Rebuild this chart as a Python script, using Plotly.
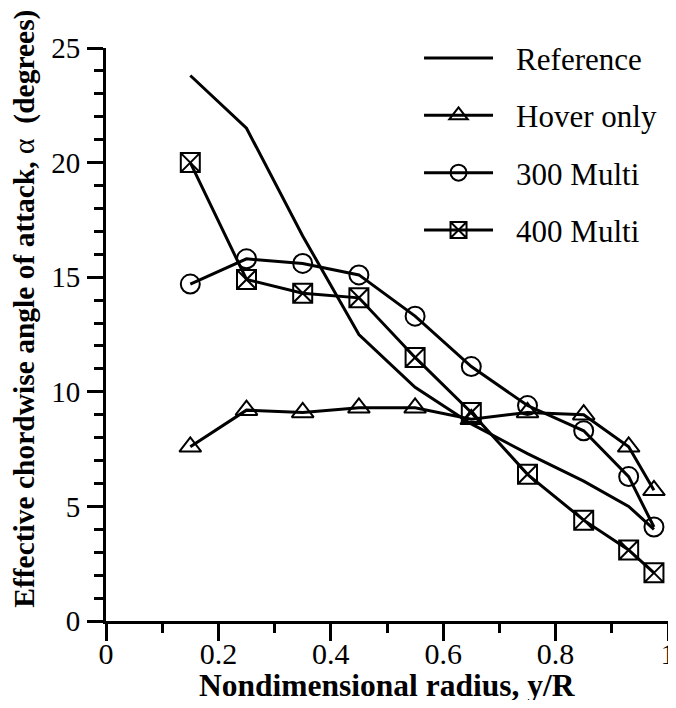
import plotly.graph_objects as go

x_pos = [0.15, 0.25, 0.35, 0.45, 0.55, 0.65, 0.75, 0.85, 0.93, 0.975]
reference = [23.8, 21.5, 16.8, 12.5, 10.2, 8.6, 7.3, 6.1, 5.0, 4.0]
hover_only = [7.6, 9.2, 9.1, 9.3, 9.3, 8.8, 9.1, 9.0, 7.6, 5.7]
multi_300 = [14.7, 15.8, 15.6, 15.1, 13.3, 11.1, 9.4, 8.3, 6.3, 4.1]
multi_400 = [20.0, 14.9, 14.3, 14.1, 11.5, 9.1, 6.4, 4.4, 3.1, 2.1]

x_ticks = [0, 0.2, 0.4, 0.6, 0.8, 1.0]
x_tick_labels = ["0", "0.2", "0.4", "0.6", "0.8", "1"]
y_ticks = [0, 5, 10, 15, 20, 25]
y_tick_labels = ["0", "5", "10", "15", "20", "25"]

FONT = "'Liberation Serif', 'Times New Roman', Times, 'DejaVu Serif', serif"
LW = 3
MS = 19
PAD = "\u00a0\u00a0\u200a"

fig = go.Figure()
fig.add_trace(go.Scatter(x=x_pos, y=reference, mode="lines", name=PAD + "Reference",
                         line=dict(color="black", width=LW), legendgroup="a"))
fig.add_trace(go.Scatter(x=x_pos, y=hover_only, mode="lines+markers", name=PAD + "Hover only",
                         line=dict(color="black", width=LW), legendgroup="b",
                         marker=dict(symbol="triangle-up-open", size=MS, color="black",
                                     line=dict(width=2, color="black"))))
fig.add_trace(go.Scatter(x=x_pos, y=multi_300, mode="lines+markers", name=PAD + "300 Multi",
                         line=dict(color="black", width=LW), legendgroup="c",
                         marker=dict(symbol="circle-open", size=MS, color="black",
                                     line=dict(width=2, color="black"))))
fig.add_trace(go.Scatter(x=x_pos, y=multi_400, mode="lines+markers", name=PAD + "400 Multi",
                         line=dict(color="black", width=LW), legendgroup="d",
                         marker=dict(symbol="square-x-open", size=MS, color="black",
                                     line=dict(width=2, color="black"))))

fig.update_layout(
    width=660, height=692,
    margin=dict(l=98, r=0, t=40, b=79),
    paper_bgcolor="white", plot_bgcolor="white",
    font=dict(family=FONT, size=29, color="black"),
    showlegend=True,
    legend=dict(x=0.557, y=1.029, xanchor="left", yanchor="top",
                font=dict(family=FONT, size=31, color="black"),
                bgcolor="rgba(0,0,0,0)", itemwidth=69,
                tracegroupgap=14),
    xaxis=dict(range=[0, 1.0], tickvals=x_ticks, ticktext=x_tick_labels,
               showgrid=False, zeroline=False, showline=True, linecolor="black",
               linewidth=3, ticks="outside", ticklen=17, tickwidth=3, tickcolor="black",
               minor=dict(dtick=0.1, ticks="outside", ticklen=9, tickwidth=3, tickcolor="black"),
               tickfont=dict(family=FONT, size=30), automargin=False,
               ticklabelstandoff=-13, ticklabeloverflow="allow"),
    yaxis=dict(range=[0, 25], tickvals=y_ticks, ticktext=y_tick_labels,
               showgrid=False, zeroline=False, showline=True, linecolor="black",
               linewidth=3, ticks="outside", ticklen=16, tickwidth=3, tickcolor="black",
               minor=dict(dtick=1, ticks="outside", ticklen=9, tickwidth=3, tickcolor="black"),
               tickfont=dict(family=FONT, size=29), automargin=False, ticklabelstandoff=1),
    annotations=[
        dict(text="<b>Nondimensional radius, y/R</b>", xref="paper", yref="paper",
             x=0.5, y=-0.1117, xanchor="center", yanchor="middle", showarrow=False,
             font=dict(family=FONT, size=31.5, color="black")),
        dict(text="<b>Effective chordwise angle of attack, </b>α<b>\u00a0 (degrees)</b>",
             xref="paper", yref="paper", x=-0.144, y=0.545, xanchor="center",
             yanchor="middle", textangle=-90, showarrow=False,
             font=dict(family=FONT, size=29.5, color="black")),
    ],
)

fig.write_html("out.html")
